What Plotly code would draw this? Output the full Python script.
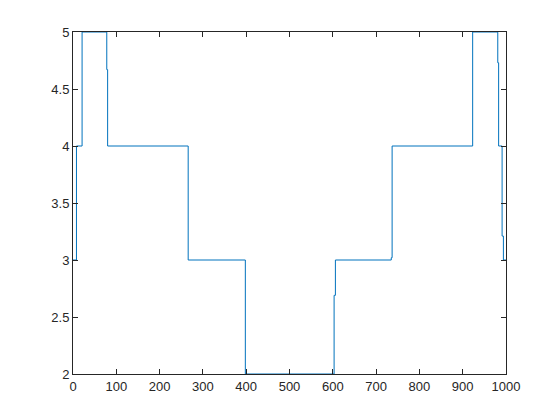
import plotly.graph_objects as go

# step vertices (x where the level starts, level value)
x_steps = [0, 8, 21, 78, 80, 266, 398, 603, 606, 735, 737, 923, 981, 983, 991, 994, 1000]
y_steps = [3, 4, 5, 4.67, 4, 3, 2, 2.69, 3, 3.02, 4, 5, 4.73, 4, 3.21, 3, 3]

x_ticks = list(range(0, 1001, 100))
y_ticks = [2, 2.5, 3, 3.5, 4, 4.5, 5]

axis_color = '#262626'

fig = go.Figure()

fig.add_trace(go.Scatter(x=x_steps, y=y_steps, mode='lines', line_shape='hv',
                         line=dict(color='#0072BD', width=1), cliponaxis=False))

axis_style = dict(showline=True, mirror='ticks', linecolor=axis_color, linewidth=1,
                  ticks='inside', ticklen=5, tickcolor=axis_color, showgrid=False,
                  zeroline=False, tickfont=dict(family='Liberation Sans, Arial', size=13,
                                                color=axis_color))

# page body adds an 8px offset, so the figure is a bit smaller than the window
fig.update_layout(xaxis=dict(range=[0, 1000], tickvals=x_ticks, **axis_style),
                  yaxis=dict(range=[2, 5], tickvals=y_ticks,
                             ticktext=[f'{v:g}' for v in y_ticks], **axis_style),
                  autosize=False, width=552, height=412,
                  margin=dict(l=65, r=54, t=24, b=46),
                  plot_bgcolor='white', paper_bgcolor='white',
                  showlegend=False)

fig.write_html("out.html")
